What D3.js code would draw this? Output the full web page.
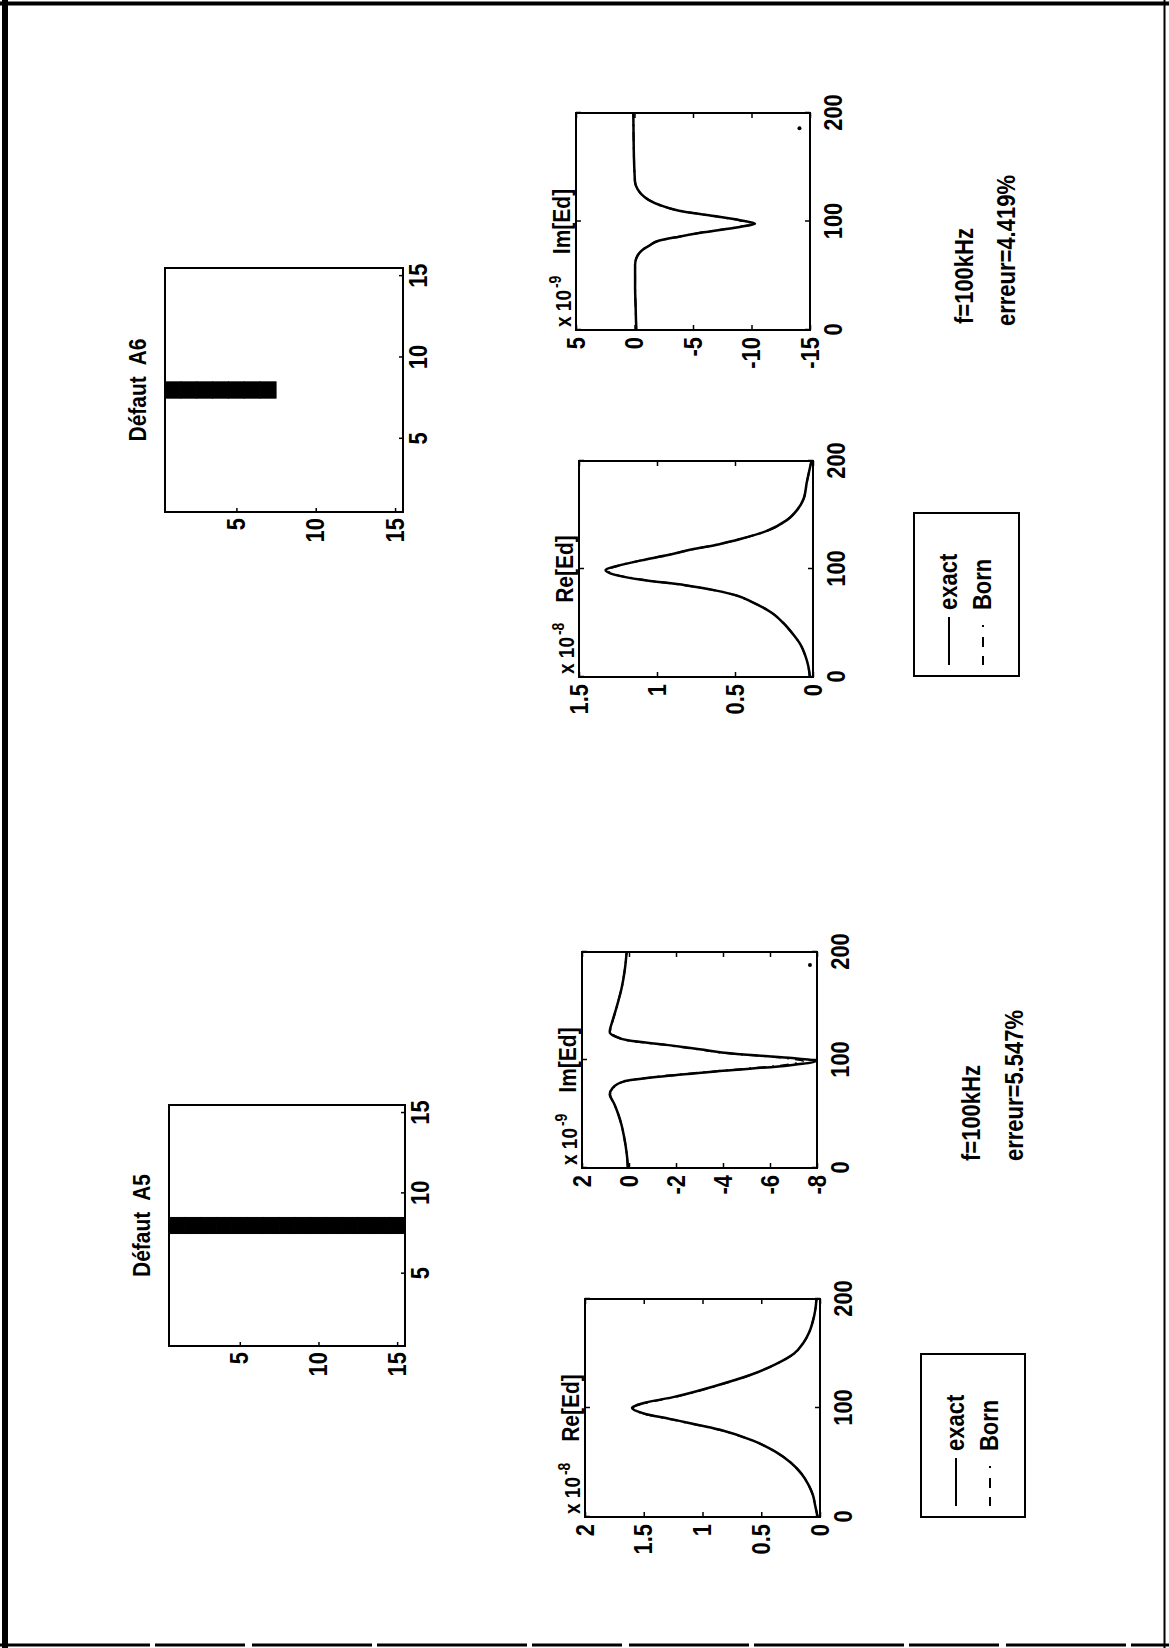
<!DOCTYPE html>
<html>
<head>
<meta charset="utf-8">
<script src="https://cdn.jsdelivr.net/npm/d3@7"></script>
<style>
  body { margin: 0; background: #fff; }
  svg text { font-family: "Liberation Sans", Arial, Helvetica, sans-serif; font-weight: bold; fill: #000; white-space: pre; }
</style>
</head>
<body>
<svg id="fig" width="1169" height="1648"></svg>
<script>
// ---- data ----
var imgTicks = [5, 10, 15];
var xTicks = [0, 100, 200];

// defect maps (column, rows of the 15x15 grid)
var a5DefectCol = 8;
var a5DefectRows = [1, 2, 3, 4, 5, 6, 7, 8, 9, 10, 11, 12, 13, 14, 15];
var a6DefectCol = 8;
var a6DefectRows = [1, 2, 3, 4, 5, 6, 7];

// Re[Ed] A5, x 10^-8
var reA5Ticks = [0, 0.5, 1, 1.5, 2];
var reA5X     = [0, 10, 20, 30, 40, 50, 60, 70, 80, 90, 95, 100, 105, 110, 120, 130, 140, 150, 160, 170, 180, 190, 200];
var reA5Exact = [0.02, 0.04, 0.06, 0.10, 0.16, 0.25, 0.38, 0.57, 0.85, 1.28, 1.50, 1.60, 1.48, 1.25, 0.90, 0.60, 0.38, 0.22, 0.14, 0.09, 0.06, 0.04, 0.03];
var reA5Born  = [0.02, 0.04, 0.06, 0.10, 0.16, 0.25, 0.38, 0.57, 0.86, 1.29, 1.51, 1.59, 1.47, 1.24, 0.89, 0.60, 0.38, 0.22, 0.14, 0.09, 0.06, 0.04, 0.03];

// Im[Ed] A5, x 10^-9
var imA5Ticks = [-8, -6, -4, -2, 0, 2];
var imA5X     = [0, 10, 20, 30, 40, 50, 60, 68, 74, 80, 85, 90, 95, 99, 102, 106, 110, 114, 118, 122, 126, 135, 145, 155, 165, 175, 185, 200];
var imA5Exact = [0.05, 0.08, 0.14, 0.22, 0.32, 0.46, 0.64, 0.82, 0.70, 0.24, -1.5, -4.0, -6.8, -7.95, -6.8, -4.4, -3.0, -1.6, 0.0, 0.60, 0.82, 0.72, 0.58, 0.45, 0.33, 0.24, 0.17, 0.10];
var imA5Born  = [0.05, 0.08, 0.14, 0.22, 0.32, 0.46, 0.64, 0.80, 0.68, 0.22, -1.4, -3.9, -6.5, -7.40, -6.6, -4.3, -2.9, -1.5, 0.0, 0.58, 0.80, 0.71, 0.57, 0.45, 0.33, 0.24, 0.17, 0.10];
var imA5Stray = [[188, -7.7]];

// Re[Ed] A6, x 10^-8
var reA6Ticks = [0, 0.5, 1, 1.5];
var reA6X     = [0, 10, 20, 30, 40, 50, 60, 70, 75, 80, 85, 90, 95, 99, 103, 108, 113, 118, 123, 128, 135, 145, 155, 165, 180, 200];
var reA6Exact = [0.02, 0.03, 0.05, 0.08, 0.13, 0.19, 0.27, 0.40, 0.48, 0.62, 0.82, 1.10, 1.28, 1.33, 1.25, 1.10, 0.93, 0.78, 0.60, 0.46, 0.30, 0.17, 0.10, 0.06, 0.04, 0.01];
var reA6Born  = [0.02, 0.03, 0.05, 0.08, 0.13, 0.19, 0.27, 0.40, 0.48, 0.62, 0.82, 1.09, 1.27, 1.32, 1.25, 1.10, 0.93, 0.78, 0.60, 0.46, 0.30, 0.17, 0.10, 0.06, 0.04, 0.01];

// Im[Ed] A6, x 10^-9
var imA6Ticks = [-15, -10, -5, 0, 5];
var imA6X     = [0, 20, 40, 60, 66, 70, 74, 78, 82, 86, 90, 95, 98, 101, 106, 110, 115, 120, 125, 130, 136, 145, 160, 180, 200];
var imA6Exact = [-0.15, -0.1, -0.05, -0.05, -0.15, -0.35, -0.7, -1.3, -2.0, -3.8, -5.9, -9.0, -10.3, -9.1, -6.2, -3.8, -2.2, -1.2, -0.6, -0.25, -0.05, 0.0, 0.05, 0.08, 0.1];
var imA6Born  = [-0.15, -0.1, -0.05, -0.05, -0.15, -0.35, -0.7, -1.3, -2.0, -3.8, -5.8, -8.9, -10.1, -9.0, -6.1, -3.8, -2.2, -1.2, -0.6, -0.25, -0.05, 0.0, 0.05, 0.08, 0.1];
var imA6Stray = [[186, -14.1]];

var legendNames = ["exact", "Born"];

// ---- drawing ----
var SY = 1.15; // glyphs of the scan are a bit taller than wide
var svg = d3.select("#fig");

// page frame
svg.append("line").attr("x1", 5).attr("y1", 0).attr("x2", 5).attr("y2", 1648).attr("stroke", "#000").attr("stroke-width", 6);
svg.append("line").attr("x1", 0).attr("y1", 3.5).attr("x2", 1169).attr("y2", 3.5).attr("stroke", "#000").attr("stroke-width", 4);
svg.append("line").attr("x1", 1164.5).attr("y1", 0).attr("x2", 1164.5).attr("y2", 1648).attr("stroke", "#000").attr("stroke-width", 2);
svg.append("line").attr("x1", 0).attr("y1", 1645).attr("x2", 1169).attr("y2", 1645).attr("stroke", "#000").attr("stroke-width", 3).attr("stroke-dasharray", "150,5,90,7,120,5");

// the figure was printed landscape and turned a quarter turn
var root = svg.append("g").attr("transform", "translate(0,1648) rotate(-90)");

function txt(g, u, v, s, size, anchor) {
  return g.append("text")
    .attr("transform", "translate(" + u + "," + v + ") scale(1," + SY + ")")
    .attr("text-anchor", anchor || "start")
    .attr("font-size", size)
    .text(s);
}

function styleAxis(a) {
  a.select(".domain").remove();
  a.attr("font-size", 22).attr("font-family", null);
  a.selectAll("line").attr("stroke", "#000").attr("stroke-width", 1.5);
  a.selectAll("text").attr("transform", "scale(1," + SY + ")");
}

function imagePanel(b, title, col, rows) {
  var g = root.append("g");
  var x = d3.scaleLinear().domain([0.5, 15.5]).range([b.u0, b.u1]);
  var y = d3.scaleLinear().domain([0.5, 15.5]).range([b.v0, b.v1]);

  g.selectAll("rect.cell").data(rows).enter().append("rect")
    .attr("class", "cell")
    .attr("x", x(col - 0.5))
    .attr("width", x(col + 0.5) - x(col - 0.5))
    .attr("y", function(r) { return y(r - 0.5); })
    .attr("height", function(r) { return y(r + 0.5) - y(r - 0.5); })
    .attr("fill", "#000").attr("stroke", "#000").attr("stroke-width", 1);

  g.append("g").attr("transform", "translate(0," + b.v1 + ")")
    .call(d3.axisBottom(x).tickValues(imgTicks).tickSizeInner(-4).tickSizeOuter(0).tickPadding(5))
    .call(styleAxis);
  g.append("g").attr("transform", "translate(" + b.u0 + ",0)")
    .call(d3.axisLeft(y).tickValues(imgTicks).tickSizeInner(-4).tickSizeOuter(0).tickPadding(6))
    .call(styleAxis);

  g.append("rect").attr("x", b.u0).attr("y", b.v0).attr("width", b.u1 - b.u0).attr("height", b.v1 - b.v0)
    .attr("fill", "none").attr("stroke", "#000").attr("stroke-width", 2);

  txt(g, (b.u0 + b.u1) / 2, b.v0 - 19, title, 21, "middle");
}

function linePanel(b, o) {
  var g = root.append("g");
  var x = d3.scaleLinear().domain([0, 200]).range([b.u0, b.u1]);
  var y = d3.scaleLinear().domain(o.yDomain).range([b.v1, b.v0]);

  g.append("g").attr("transform", "translate(0," + b.v1 + ")")
    .call(d3.axisBottom(x).tickValues(xTicks).tickSizeInner(-5).tickSizeOuter(0).tickPadding(12))
    .call(styleAxis);
  g.append("g").attr("transform", "translate(0," + b.v0 + ")")
    .call(d3.axisTop(x).tickValues(xTicks).tickSizeInner(-5).tickSizeOuter(0).tickFormat(""))
    .call(styleAxis);
  g.append("g").attr("transform", "translate(" + b.u0 + ",0)")
    .call(d3.axisLeft(y).tickValues(o.yTicks).tickSizeInner(-5).tickSizeOuter(0).tickPadding(7).tickFormat(function(d) { return String(d); }))
    .call(styleAxis);
  g.append("g").attr("transform", "translate(" + b.u1 + ",0)")
    .call(d3.axisRight(y).tickValues(o.yTicks).tickSizeInner(-5).tickSizeOuter(0).tickFormat(""))
    .call(styleAxis);

  var line = d3.line()
    .x(function(d) { return x(d[0]); })
    .y(function(d) { return y(d[1]); })
    .curve(d3.curveMonotoneX);

  var exact = o.xs.map(function(v, i) { return [v, o.exact[i]]; });
  var born = o.xs.map(function(v, i) { return [v, o.born[i]]; });

  g.append("path").datum(born).attr("d", line).attr("fill", "none")
    .attr("stroke", "#000").attr("stroke-width", 2).attr("stroke-dasharray", "9,6,2,6");
  g.append("path").datum(exact).attr("d", line).attr("fill", "none")
    .attr("stroke", "#000").attr("stroke-width", 2.5).attr("stroke-linejoin", "round");

  if (o.stray) {
    g.selectAll("circle.stray").data(o.stray).enter().append("circle")
      .attr("class", "stray")
      .attr("cx", function(d) { return x(d[0]); })
      .attr("cy", function(d) { return y(d[1]); })
      .attr("r", 2).attr("fill", "#000");
  }

  g.append("rect").attr("x", b.u0).attr("y", b.v0).attr("width", b.u1 - b.u0).attr("height", b.v1 - b.v0)
    .attr("fill", "none").attr("stroke", "#000").attr("stroke-width", 2);

  // exponent and title
  var e = g.append("text")
    .attr("transform", "translate(" + (b.u0 + 3) + "," + (b.v0 - 5) + ") scale(1," + SY + ")")
    .attr("font-size", 19);
  e.append("tspan").text("x 10");
  e.append("tspan").attr("dx", 2).attr("dy", -9).attr("font-size", 14).text(o.exp);

  txt(g, (b.u0 + b.u1) / 2, b.v0 - 6, o.title, 21, "middle");
}

function legend(b) {
  var g = root.append("g");
  g.append("rect").attr("x", b.u0).attr("y", b.v0).attr("width", b.u1 - b.u0).attr("height", b.v1 - b.v0)
    .attr("fill", "#fff").attr("stroke", "#000").attr("stroke-width", 2);
  legendNames.forEach(function(name, i) {
    var v = b.v0 + 35 + i * 34;
    g.append("line").attr("x1", b.u0 + 11).attr("x2", b.u0 + 59).attr("y1", v).attr("y2", v)
      .attr("stroke", "#000").attr("stroke-width", 2)
      .attr("stroke-dasharray", i === 0 ? null : "9,9,10,10,2,40");
    txt(g, b.u0 + 66, v + 8, name, 22, "start");
  });
}

// ---- A5 (left half of the landscape page) ----
imagePanel({u0: 302, u1: 543, v0: 169, v1: 405}, "D\u00e9faut  A5", a5DefectCol, a5DefectRows);
linePanel({u0: 131, u1: 349, v0: 585, v1: 820},
  {yDomain: [0, 2], yTicks: reA5Ticks, xs: reA5X, exact: reA5Exact, born: reA5Born, title: "Re[Ed]", exp: "-8"});
linePanel({u0: 480, u1: 696, v0: 582, v1: 817},
  {yDomain: [-8, 2], yTicks: imA5Ticks, xs: imA5X, exact: imA5Exact, born: imA5Born, title: "Im[Ed]", exp: "-9", stray: imA5Stray});
legend({u0: 131, u1: 294, v0: 921, v1: 1025});
txt(root, 487, 980, "f=100kHz", 22, "start");
txt(root, 487, 1023, "erreur=5.547%", 22, "start");

// ---- A6 (right half) ----
imagePanel({u0: 1136, u1: 1380, v0: 165, v1: 403}, "D\u00e9faut  A6", a6DefectCol, a6DefectRows);
linePanel({u0: 971, u1: 1187, v0: 579, v1: 813},
  {yDomain: [0, 1.5], yTicks: reA6Ticks, xs: reA6X, exact: reA6Exact, born: reA6Born, title: "Re[Ed]", exp: "-8"});
linePanel({u0: 1318, u1: 1535, v0: 576, v1: 810},
  {yDomain: [-15, 5], yTicks: imA6Ticks, xs: imA6X, exact: imA6Exact, born: imA6Born, title: "Im[Ed]", exp: "-9", stray: imA6Stray});
legend({u0: 972, u1: 1135, v0: 914, v1: 1019});
txt(root, 1324, 973, "f=100kHz", 22, "start");
txt(root, 1322, 1015, "erreur=4.419%", 22, "start");
</script>
</body>
</html>
